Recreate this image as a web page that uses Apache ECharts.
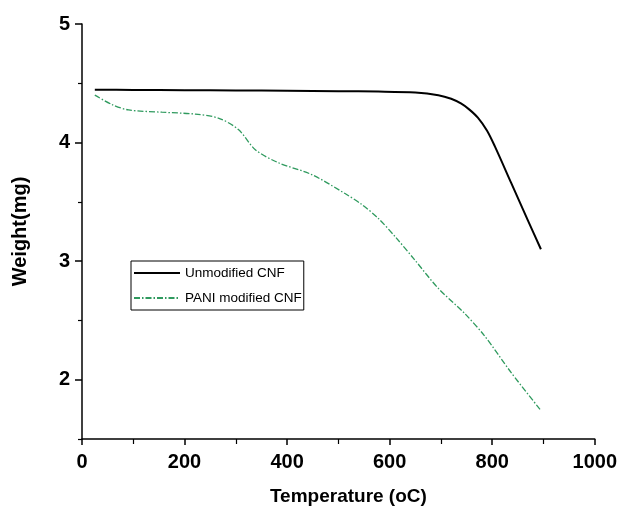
<!DOCTYPE html>
<html>
<head>
<meta charset="utf-8">
<script src="https://cdn.jsdelivr.net/npm/echarts@6/dist/echarts.min.js"></script>
<style>
html,body{margin:0;padding:0;background:#fff;}
#c{width:620px;height:511px;}
</style>
</head>
<body>
<div id="c"></div>
<script>
// ---- data ----
const seriesNames = ['Unmodified CNF', 'PANI modified CNF'];
const unmodTemp = [25, 100, 200, 300, 400, 500, 578, 650, 695, 720, 739, 755, 772, 790, 805, 837, 870, 895];
const unmodWeight = [4.445, 4.444, 4.442, 4.44, 4.437, 4.433, 4.43, 4.422, 4.40, 4.37, 4.33, 4.28, 4.21, 4.10, 3.97, 3.66, 3.34, 3.10];
const paniTemp = [25, 59, 91, 156, 221, 267, 305, 338, 383, 448, 513, 545, 578, 612, 649, 695, 746, 785, 837, 895];
const paniWeight = [4.40, 4.32, 4.275, 4.256, 4.24, 4.205, 4.11, 3.94, 3.83, 3.73, 3.57, 3.48, 3.36, 3.20, 3.01, 2.77, 2.56, 2.37, 2.06, 1.74];
const xTicks = [0, 200, 400, 600, 800, 1000];
const yTicks = [2, 3, 4, 5];
const yMinorTicks = [1.5, 2.5, 3.5, 4.5];
const xTitle = 'Temperature (oC)';
const yTitle = 'Weight(mg)';

const zip = (a, b) => a.map((v, i) => [v, b[i]]);
const FONT = '"Liberation Sans", Arial, sans-serif';

const chart = echarts.init(document.getElementById('c'), null, {renderer: 'canvas'});
chart.setOption({
  animation: false,
  backgroundColor: '#fff',
  grid: {left: 82, right: 25, top: 24, bottom: 71, containLabel: false},
  legend: {
    orient: 'vertical',
    left: 131, top: 261,
    itemWidth: 46, itemHeight: 14, itemGap: 7,
    padding: [3, 2, 3, 2],
    borderColor: '#000', borderWidth: 1,
    itemStyle: {opacity: 0},
    textStyle: {fontFamily: FONT, fontSize: 13.5, lineHeight: 18, color: '#000'},
    data: seriesNames
  },
  xAxis: {
    type: 'value', min: xTicks[0], max: xTicks[xTicks.length - 1], interval: 200,
    name: xTitle, nameLocation: 'middle', nameGap: 48,
    nameTextStyle: {fontFamily: FONT, fontSize: 19, fontWeight: 'bold', color: '#000', padding: [0, 0, 0, 20]},
    axisLine: {show: true, lineStyle: {color: '#000', width: 1.5}},
    axisTick: {show: true, length: 6, lineStyle: {color: '#000', width: 1.5}},
    minorTick: {show: true, splitNumber: 2, length: 5, lineStyle: {color: '#000', width: 1.2}},
    axisLabel: {fontFamily: FONT, fontSize: 20, fontWeight: 'bold', color: '#000', margin: 13,
      formatter: v => String(v)},
    splitLine: {show: false}
  },
  yAxis: [{
    type: 'value', min: 1.5, max: 5,
    name: yTitle, nameLocation: 'middle', nameGap: 52, nameRotate: 90,
    nameTextStyle: {fontFamily: FONT, fontSize: 20, fontWeight: 'bold', color: '#000'},
    axisLine: {show: true, lineStyle: {color: '#000', width: 1.5}},
    axisTick: {show: true, length: 7, customValues: yTicks, lineStyle: {color: '#000', width: 1.5}},
    axisLabel: {fontFamily: FONT, fontSize: 20, fontWeight: 'bold', color: '#000', margin: 12, customValues: yTicks},
    splitLine: {show: false}
  }, {
    type: 'value', min: 1.5, max: 5, position: 'left',
    axisLine: {show: false},
    axisTick: {show: true, length: 4, customValues: yMinorTicks, lineStyle: {color: '#000', width: 1.2}},
    axisLabel: {show: false},
    splitLine: {show: false}
  }],
  series: [{
    name: seriesNames[0], type: 'line', yAxisIndex: 0,
    data: zip(unmodTemp, unmodWeight),
    smooth: 0.3, symbol: 'none',
    lineStyle: {color: '#000', width: 2},
    itemStyle: {color: '#000'}
  }, {
    name: seriesNames[1], type: 'line', yAxisIndex: 0,
    data: zip(paniTemp, paniWeight),
    smooth: 0.3, symbol: 'none',
    lineStyle: {color: '#2f9a5e', width: 1.3, type: [6, 2, 1.5, 2]},
    itemStyle: {color: '#2f9a5e'}
  }]
});
</script>
</body>
</html>
